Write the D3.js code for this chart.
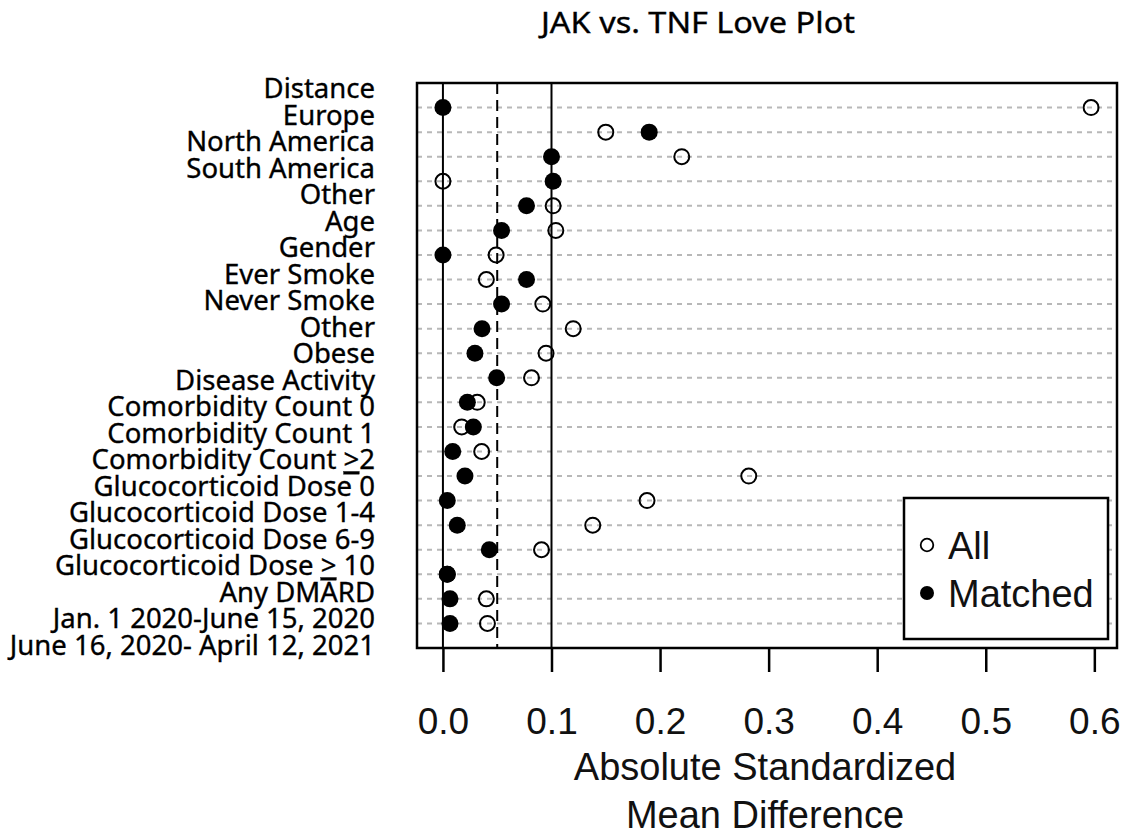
<!DOCTYPE html>
<html>
<head>
<meta charset="utf-8">
<script src="https://cdn.jsdelivr.net/npm/d3@7"></script>
<style>
  body { margin: 0; background: #fff; }
</style>
</head>
<body>
<svg id="chart" width="1128" height="838"></svg>
<script>
// ---------- data ----------
const categories = [
  "Distance", "Europe", "North America", "South America", "Other", "Age", "Gender",
  "Ever Smoke", "Never Smoke", "Other", "Obese", "Disease Activity",
  "Comorbidity Count 0", "Comorbidity Count 1", "Comorbidity Count >2",
  "Glucocorticoid Dose 0", "Glucocorticoid Dose 1-4", "Glucocorticoid Dose 6-9",
  "Glucocorticoid Dose > 10", "Any DMARD", "Jan. 1 2020-June 15, 2020",
  "June 16, 2020- April 12, 2021"
];
const allValues = [
  0.597, 0.150, 0.220, 0.000, 0.1015, 0.104, 0.049, 0.040, 0.092, 0.120, 0.095,
  0.0816, 0.0316, 0.0173, 0.0357, 0.2817, 0.188, 0.138, 0.0908, 0.004, 0.040, 0.041
];
const matchedValues = [
  0.000, 0.190, 0.100, 0.1015, 0.077, 0.054, 0.000, 0.077, 0.054, 0.036, 0.0295,
  0.0495, 0.0225, 0.028, 0.009, 0.0203, 0.004, 0.0132, 0.0427, 0.004, 0.0065, 0.0065
];
const xTicks = [0.0, 0.1, 0.2, 0.3, 0.4, 0.5, 0.6];
const solidRefLines = [0, 0.1];
const dashedRefLines = [0.05];
const legendItems = ["All", "Matched"];
const titleText = "JAK vs. TNF Love Plot";
const xTitleLines = ["Absolute Standardized", "Mean Difference"];

// ---------- layout ----------
const svg = d3.select("#chart");
const box = { left: 417, right: 1117, top: 83, bottom: 648 };
const n = categories.length;
const sansR = "'Liberation Sans', Arial, sans-serif";
const sansC = "'Noto Sans', 'Open Sans', sans-serif";

const maxV = d3.max(allValues.concat(matchedValues));
const pad = maxV * 0.04;
const x = d3.scaleLinear().domain([-pad, maxV + pad]).range([box.left, box.right]);
const y = d3.scaleLinear().domain([0, n + 1]).range([box.bottom, box.top]);
const rowY = i => y(n - i);   // row 0 at top

// labels are typeset on their own spacing (as in the reference)
const labelY = d3.scalePoint().domain(d3.range(n)).range([98.3, 655]);

// ---------- title ----------
svg.append("text")
  .attr("x", 698).attr("y", 33)
  .attr("text-anchor", "middle")
  .attr("font-family", sansC).attr("font-size", 29)
  .attr("fill", "#000").attr("stroke", "#000").attr("stroke-width", 0.35)
  .attr("textLength", 314).attr("lengthAdjust", "spacingAndGlyphs")
  .text(titleText);

// ---------- row dotted lines ----------
svg.append("g").selectAll("line").data(categories).join("line")
  .attr("x1", box.left).attr("x2", box.right)
  .attr("y1", (d, i) => rowY(i)).attr("y2", (d, i) => rowY(i))
  .attr("stroke", "#b8b8b8").attr("stroke-width", 2)
  .attr("stroke-dasharray", "5,5");

// ---------- reference lines ----------
svg.append("g").selectAll("line").data(solidRefLines).join("line")
  .attr("x1", d => x(d)).attr("x2", d => x(d))
  .attr("y1", box.top).attr("y2", box.bottom)
  .attr("stroke", "#000").attr("stroke-width", 2);
svg.append("g").selectAll("line").data(dashedRefLines).join("line")
  .attr("x1", d => x(d)).attr("x2", d => x(d))
  .attr("y1", box.top).attr("y2", box.bottom)
  .attr("stroke", "#000").attr("stroke-width", 2)
  .attr("stroke-dasharray", "11,6");

// ---------- points ----------
svg.append("g").selectAll("circle").data(allValues).join("circle")
  .attr("cx", d => x(d)).attr("cy", (d, i) => rowY(i))
  .attr("r", 7.5).attr("fill", "none")
  .attr("stroke", "#000").attr("stroke-width", 2);
svg.append("g").selectAll("circle").data(matchedValues).join("circle")
  .attr("cx", d => x(d)).attr("cy", (d, i) => rowY(i))
  .attr("r", 8.5).attr("fill", "#000");

// ---------- box ----------
svg.append("rect")
  .attr("x", box.left).attr("y", box.top)
  .attr("width", box.right - box.left).attr("height", box.bottom - box.top)
  .attr("fill", "none").attr("stroke", "#000").attr("stroke-width", 2.5);

// ---------- x axis ----------
const xAxis = d3.axisBottom(x).tickValues(xTicks).tickSize(24).tickFormat(d3.format(".1f"));
const gx = svg.append("g").attr("transform", `translate(0,${box.bottom})`).call(xAxis);
gx.select(".domain").remove();
gx.selectAll(".tick line").attr("stroke", "#000").attr("stroke-width", 2.5);
gx.selectAll(".tick text")
  .attr("y", 86).attr("dy", null)
  .attr("font-family", sansR).attr("font-size", 37).attr("fill", "#111");

// x-axis title
svg.append("g").selectAll("text").data(xTitleLines).join("text")
  .attr("x", 765).attr("y", (d, i) => 780 + i * 48)
  .attr("text-anchor", "middle")
  .attr("font-family", sansR).attr("font-size", 38).attr("fill", "#111")
  .text(d => d);

// ---------- category labels ----------
const lbl = svg.append("g").selectAll("text").data(categories).join("text")
  .attr("x", 375).attr("y", (d, i) => labelY(i))
  .attr("text-anchor", "end")
  .attr("font-family", sansC).attr("font-size", 27.5)
  .attr("fill", "#000").attr("stroke", "#000").attr("stroke-width", 0.35);
lbl.each(function(d) {
  const t = d3.select(this);
  const k = d.indexOf(">");
  if (k < 0) { t.text(d); return; }
  t.append("tspan").text(d.slice(0, k));
  t.append("tspan").style("text-decoration", "underline").text(">");
  t.append("tspan").text(d.slice(k + 1));
});

// ---------- legend ----------
const lg = { x: 904, y: 498, w: 204, h: 141 };
svg.append("rect")
  .attr("x", lg.x).attr("y", lg.y).attr("width", lg.w).attr("height", lg.h)
  .attr("fill", "#fff").attr("stroke", "#000").attr("stroke-width", 2.5);
const ly = d3.scalePoint().domain(legendItems).range([lg.y + 47, lg.y + 95]);
svg.append("circle").attr("cx", lg.x + 23).attr("cy", ly("All"))
  .attr("r", 6.3).attr("fill", "none").attr("stroke", "#000").attr("stroke-width", 1.8);
svg.append("circle").attr("cx", lg.x + 23).attr("cy", ly("Matched"))
  .attr("r", 7).attr("fill", "#000");
svg.append("g").selectAll("text").data(legendItems).join("text")
  .attr("x", lg.x + 44).attr("y", d => ly(d) + 14)
  .attr("font-family", sansR).attr("font-size", 38).attr("fill", "#111")
  .text(d => d);
</script>
</body>
</html>
